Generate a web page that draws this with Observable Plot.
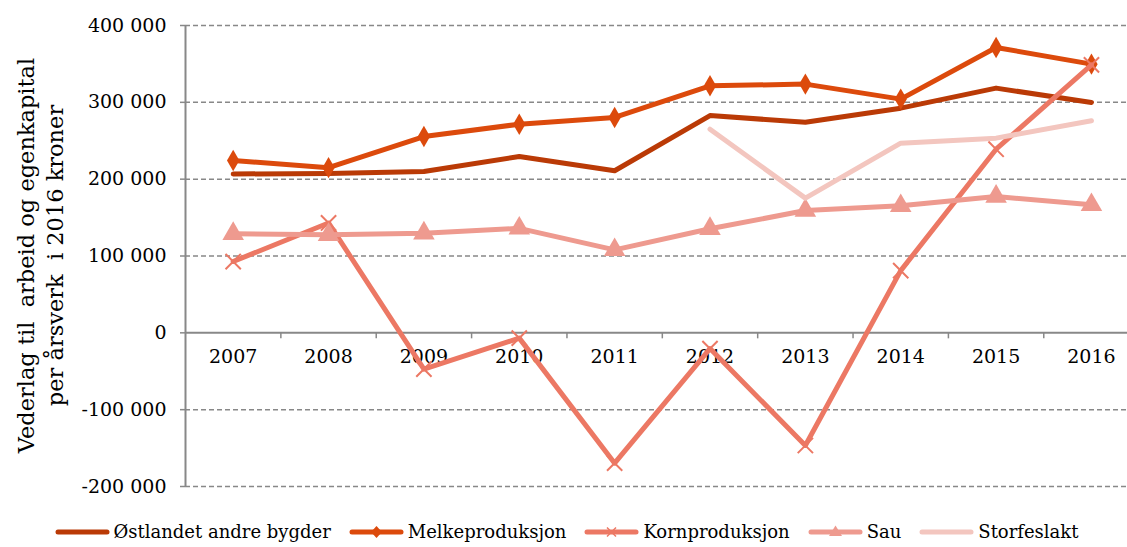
<!DOCTYPE html>
<html>
<head>
<meta charset="utf-8">
<script src="https://cdn.jsdelivr.net/npm/d3@7"></script>
<script src="https://cdn.jsdelivr.net/npm/@observablehq/plot@0.6"></script>
<style>
  html, body { margin: 0; padding: 0; background: white; }
  #chart { width: 1127px; }
  .legend { display: flex; justify-content: center; align-items: center; height: 31px; font-family: "DejaVu Serif", serif; font-size: 18px; color: #000; padding-left: 6px; }
  .item { display: flex; align-items: center; margin: 0 9px; }
  .item span { margin-left: 4px; }
</style>
</head>
<body>
<div id="chart"></div>
<script>
const years = [2007, 2008, 2009, 2010, 2011, 2012, 2013, 2014, 2015, 2016];
const ostlandet = [206700, 207500, 210000, 229500, 211000, 282800, 274000, 292400, 318500, 299800];
const melk = [224300, 215000, 255500, 271600, 280300, 321500, 323700, 304200, 371400, 349700];
const korn = [92800, 143000, -47300, -6900, -169600, -20500, -146600, 81000, 239000, 348800];
const sau = [129000, 127600, 129700, 136000, 108000, 135400, 159200, 165300, 177400, 166600];
const storfe = [null, null, null, null, null, 265000, 175300, 246900, 253400, 276000];
const seriesNames = ["Østlandet andre bygder", "Melkeproduksjon", "Kornproduksjon", "Sau", "Storfeslakt"];
const seriesColors = ["#BA3A06", "#DC4A0C", "#EC7864", "#EE9A8F", "#F3C6BF"];
const seriesSymbols = [null, "diamond", "times", "triangle", null];
const yTicks = [-200000, -100000, 0, 100000, 200000, 300000, 400000];
const yTitle = ["Vederlag til  arbeid og egenkapital", "per årsverk  i 2016 kroner"];

const fmt = d3.formatLocale({decimal: ",", thousands: " ", grouping: [3], currency: ["", ""], minus: "-"}).format(",");
const allSeries = [ostlandet, melk, korn, sau, storfe];
const tables = allSeries.map(vals => years.map((y, i) => ({year: y, value: vals[i]})).filter(d => d.value != null));
const boundaries = years.slice(0, -1).map(y => y + 0.5);
const gridTicks = yTicks.filter(v => v !== 0);

const marks = [
  Plot.ruleY(gridTicks, {y: d => d, stroke: "#888", strokeWidth: 1.5, strokeDasharray: "5,3"}),
  Plot.ruleY([0], {y: d => d, stroke: "#888", strokeWidth: 2}),
  Plot.ruleX([years[0] - 0.5], {x: d => d, y1: yTicks[0], y2: yTicks[yTicks.length - 1], stroke: "#888", strokeWidth: 2}),
  Plot.ruleX(boundaries, {x: d => d, y1: 0, y2: 0, insetBottom: -6, stroke: "#888", strokeWidth: 1.5}),
  Plot.axisY({ticks: yTicks, tickFormat: fmt, tickSize: 5, tickPadding: 14, stroke: "#888", strokeWidth: 1.5, fill: "#000", fontSize: 19, label: null}),
  Plot.text(years, {x: d => d, y: 0, text: d => String(d), dy: 24, fontSize: 19, fill: "#000"})
];
tables.forEach((t, i) => {
  marks.push(Plot.line(t, {x: "year", y: "value", stroke: seriesColors[i], strokeWidth: 5, strokeLinecap: "round", strokeLinejoin: "round"}));
  const s = seriesSymbols[i];
  if (s === "diamond") marks.push(Plot.dot(t, {x: "year", y: "value", symbol: "diamond", r: 6.5, fill: seriesColors[i]}));
  if (s === "times") marks.push(Plot.dot(t, {x: "year", y: "value", symbol: "times", r: 7, stroke: seriesColors[i], strokeWidth: 2}));
  if (s === "triangle") marks.push(Plot.dot(t, {x: "year", y: "value", symbol: "triangle", r: 8, fill: seriesColors[i]}));
});

const chart = Plot.plot({
  width: 1127,
  height: 516,
  marginLeft: 185,
  marginRight: 0,
  marginTop: 25,
  marginBottom: 30,
  x: {type: "linear", domain: [2006.5, 2016.378], axis: null},
  y: {domain: [yTicks[0], yTicks[yTicks.length - 1]], axis: null},
  style: {fontFamily: "DejaVu Serif, serif", background: "white", color: "#000", overflow: "visible"},
  marks
});

const svg = d3.select(chart);
const cy = (25 + 486) / 2;
yTitle.forEach((line, i) => {
  svg.append("text")
    .attr("transform", `translate(${34 + i * 29},${cy}) rotate(-90)`)
    .attr("text-anchor", "middle")
    .attr("font-family", "DejaVu Serif, serif")
    .attr("font-size", 22.5)
    .attr("fill", "#000")
    .style("white-space", "pre")
    .text(line);
});

document.getElementById("chart").appendChild(chart);

// legend
const legend = d3.select("#chart").append("div").attr("class", "legend");
seriesNames.forEach((name, i) => {
  const item = legend.append("div").attr("class", "item");
  const sw = item.append("svg").attr("width", 55).attr("height", 16);
  sw.append("line").attr("x1", 3).attr("x2", 52).attr("y1", 8).attr("y2", 8)
    .attr("stroke", seriesColors[i]).attr("stroke-width", 5).attr("stroke-linecap", "round");
  const s = seriesSymbols[i];
  if (s === "diamond") sw.append("path").attr("d", "M27.5,2 L33,8 L27.5,14 L22,8 Z").attr("fill", seriesColors[i]);
  if (s === "times") sw.append("path").attr("d", "M23,3.5 L32,12.5 M32,3.5 L23,12.5").attr("stroke", seriesColors[i]).attr("stroke-width", 1.5);
  if (s === "triangle") sw.append("path").attr("d", "M27.5,1.5 L34,12 L21,12 Z").attr("fill", seriesColors[i]);
  item.append("span").text(name);
});
</script>
</body>
</html>
